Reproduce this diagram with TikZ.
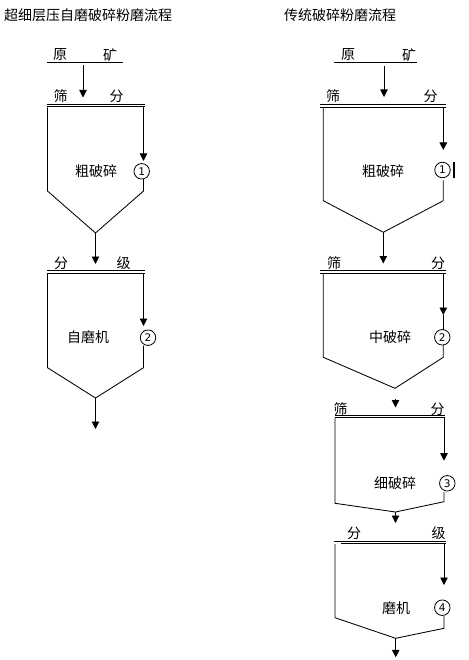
\documentclass[tikz,border=0pt]{standalone}
\usepackage{fontspec}
\newfontfamily\cjk{Noto Sans CJK SC}
\newfontfamily\numfont{DejaVu Sans}
\usetikzlibrary{arrows.meta}
\tikzset{
  ln/.style={line width=0.85pt, black},
  arr/.style={ln, -{Triangle[width=7.5pt,length=7.5pt]}},
  lbl/.style={font=\cjk\fontsize{14}{14}\selectfont, inner sep=0pt},
  ttl/.style={font=\cjk\fontsize{14}{14}\selectfont, inner sep=0pt, anchor=west},
  num/.style={circle, draw, line width=0.8pt, inner sep=0pt, minimum size=15.5pt,
              font=\numfont\fontsize{10.5}{10.5}\selectfont},
}
\begin{document}
\begin{tikzpicture}[x=1pt,y=-1pt]
\useasboundingbox (0,0) rectangle (468,660);
\fill[white] (0,0) rectangle (468,660);

% ================= LEFT =================
\node[ttl] (t1) at (4,15) {超细层压自磨破碎粉磨流程};

% raw ore
\node[lbl] (l1a) at (60,55) {原};
\node[lbl] (l1b) at (110,55) {矿};
\draw[ln] (47,62.5) -- (123,62.5);
\coordinate (l1out) at (83,65);
\coordinate (l2in) at (83,97.5);
\draw[arr] (l1out) -- (l2in);

% screen 1
\node[lbl] (l2a) at (60.5,96) {筛};
\node[lbl] (l2b) at (116.5,96) {分};
\draw[ln] (47,104) -- (145,104);
\draw[ln] (47,106.3) -- (145,106.3);

% coarse crush box
\draw[ln] (47.5,107.5) -- (47.5,191) -- (95.5,233) -- (143.5,191) -- (143.5,179);
\coordinate (l2r) at (143.5,107.5);
\coordinate (l2rt) at (143.5,161);
\draw[arr] (l2r) -- (l2rt);
\node[num] (ln1) at (141.7,171.3) {1};
\node[lbl] (lb1) at (96,171) {粗破碎};
\coordinate (lb1out) at (95.5,233);
\coordinate (l3in) at (95.5,264);
\draw[arr] (lb1out) -- (l3in);

% classification
\node[lbl] (l3a) at (61,263) {分};
\node[lbl] (l3b) at (123.5,263) {级};
\draw[ln] (47,270.7) -- (145,270.7);
\draw[ln] (47,273) -- (145,273);

% AG mill box
\draw[ln] (47.5,274) -- (47.5,367.7) -- (95.5,398) -- (143.5,367.7) -- (143.5,345.5);
\coordinate (l3r) at (143.5,274);
\coordinate (l3rt) at (143.5,326);
\draw[arr] (l3r) -- (l3rt);
\node[num] (ln2) at (148,337.7) {2};
\node[lbl] (lb2) at (88,337) {自磨机};
\coordinate (lb2out) at (95.5,398);
\coordinate (lend) at (95.5,429);
\draw[arr] (lb2out) -- (lend);

% ================= RIGHT =================
\node[ttl] (t2) at (284,15) {传统破碎粉磨流程};

\node[lbl] (r1a) at (348,55) {原};
\node[lbl] (r1b) at (409,55) {矿};
\draw[ln] (334,62.5) -- (417,62.5);
\coordinate (r1out) at (384,66);
\coordinate (r2in) at (384,97);
\draw[arr] (r1out) -- (r2in);

% screen 1
\node[lbl] (r2a) at (333,96) {筛};
\node[lbl] (r2b) at (430.5,96) {分};
\draw[ln] (320,104.7) -- (446,104.7);
\draw[ln] (320,107) -- (446,107);

% coarse crush
\draw[ln] (323.3,108) -- (323.3,200.7) -- (383.3,232.3) -- (443.3,200.7) -- (443.3,180.5);
\coordinate (r2r) at (443.3,108);
\coordinate (r2rt) at (443.3,150);
\draw[arr] (r2r) -- (r2rt);
\node[num] (rn1) at (442.5,170) {1};
\fill (452.5,162) rectangle (455,178.5);
\node[lbl] (rb1) at (383,171) {粗破碎};
\coordinate (rb1out) at (383.3,232.3);
\coordinate (r3in) at (383.3,263.5);
\draw[arr] (rb1out) -- (r3in);

% screen 2
\node[lbl] (r3a) at (334,263) {筛};
\node[lbl] (r3b) at (438,263) {分};
\draw[ln] (320,270.7) -- (446,270.7);
\draw[ln] (320,273) -- (446,273);

% medium crush
\draw[ln] (323.3,274) -- (323.3,357.3) -- (395,388.3) -- (443.3,357.3) -- (443.3,345);
\coordinate (r3r) at (443.3,274);
\coordinate (r3rt) at (443.3,315);
\draw[arr] (r3r) -- (r3rt);
\draw[ln] (r3rt) -- (443.3,330);
\node[num] (rn2) at (442.3,337.3) {2};
\node[lbl] (rb2) at (390,337) {中破碎};
\coordinate (rb2out) at (395.5,399);
\coordinate (r4in) at (395.5,407.5);
\draw[arr] (rb2out) -- (r4in);

% screen 3
\node[lbl] (r4a) at (340.5,409) {筛};
\node[lbl] (r4b) at (437.7,409) {分};
\draw[ln] (335,415) -- (445,415);
\draw[ln] (335,417.3) -- (445,417.3);

% fine crush
\draw[ln] (335,418) -- (335,503.3) -- (395.5,512) -- (444,501.7) -- (444,492);
\coordinate (r4r) at (444,418);
\coordinate (r4rt) at (444,460.7);
\draw[arr] (r4r) -- (r4rt);
\node[num] (rn3) at (447.3,483.3) {3};
\node[lbl] (rb3) at (395,483.3) {细破碎};
\coordinate (rb3out) at (395.5,512);
\coordinate (r5in) at (395.5,523);
\draw[arr] (rb3out) -- (r5in);

% classification
\node[lbl] (r5a) at (354,533) {分};
\node[lbl] (r5b) at (438.5,533) {级};
\draw[ln] (334,541) -- (446,541);
\draw[ln] (341,543.3) -- (446,543.3);

% mill
\draw[ln] (335,544) -- (335,617.7) -- (395.7,638.3) -- (444,628.3) -- (444,616);
\coordinate (r5r) at (444,544);
\coordinate (r5rt) at (444,585);
\draw[arr] (r5r) -- (r5rt);
\node[num] (rn4) at (442.3,607.7) {4};
\node[lbl] (rb4) at (396,607.7) {磨机};
\coordinate (rb4out) at (395.7,638.3);
\coordinate (rend) at (395.7,657.3);
\draw[arr] (rb4out) -- (rend);
\end{tikzpicture}
\end{document}
